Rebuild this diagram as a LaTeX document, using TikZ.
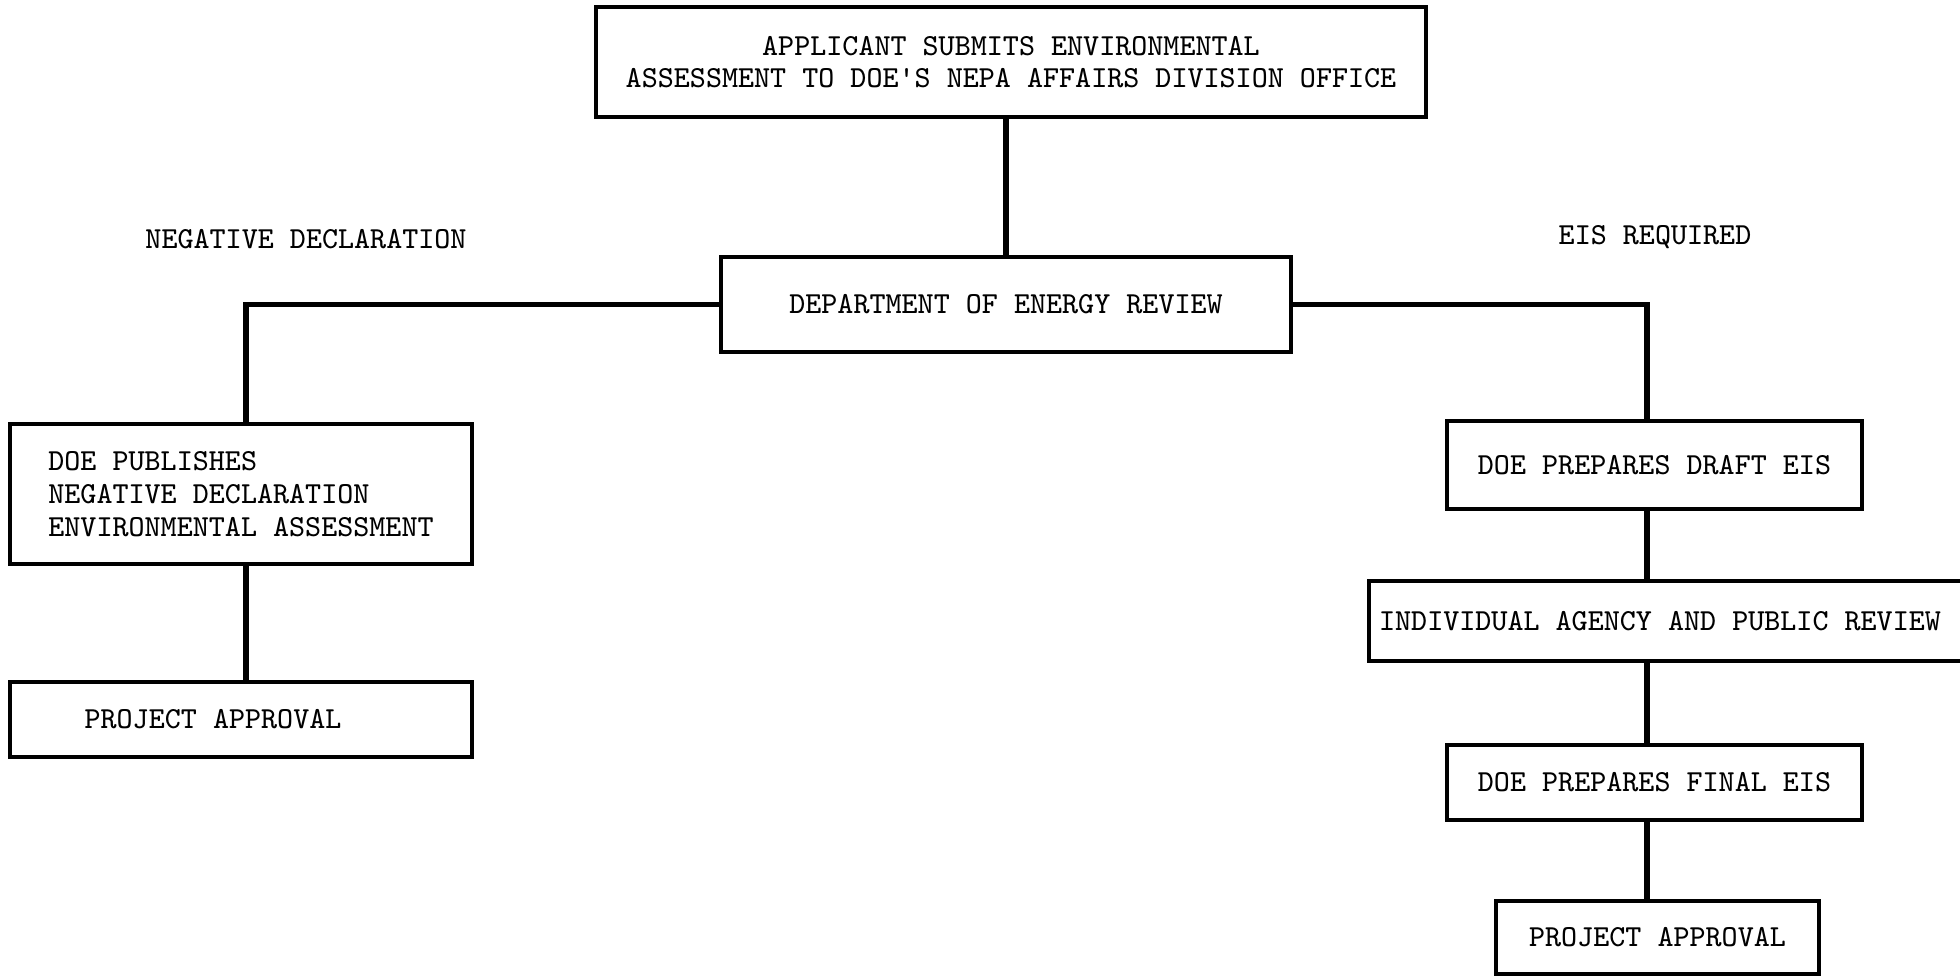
\documentclass[tikz,border=0pt]{standalone}
\usepackage{tikz}
\usetikzlibrary{positioning, calc}
\tikzset{
  stage/.style={
    draw,
    line width=0.9pt,
    inner sep=0pt,
    align=center,
    font=\fontsize{8.7}{9.3}\selectfont\ttfamily
  },
  caption/.style={
    font=\fontsize{8.7}{9.3}\selectfont\ttfamily
  },
  link/.style={
    line width=1.7pt
  }
}
\begin{document}
\begin{tikzpicture}
          \useasboundingbox (0,0) rectangle (19.6,-9.76);
          \node[stage, minimum width=8.30cm, minimum height=1.10cm] (submit) at (10.11,-0.62)
            {APPLICANT SUBMITS ENVIRONMENTAL\\ASSESSMENT TO DOE'S NEPA AFFAIRS DIVISION OFFICE};
          \node[stage, minimum width=5.70cm, minimum height=0.95cm] (review) at (10.06,-3.045)
            {DEPARTMENT OF ENERGY REVIEW};
          \node[caption] (negdecl) at (3.06,-2.39) {NEGATIVE DECLARATION};
          \node[caption] (eisreq) at (16.55,-2.37) {EIS REQUIRED};
          \node[stage, align=left, minimum width=4.62cm, minimum height=1.40cm] (publish) at (2.41,-4.94)
            {DOE PUBLISHES\\NEGATIVE DECLARATION\\ENVIRONMENTAL ASSESSMENT};
          \node[stage, minimum width=4.62cm, minimum height=0.75cm] (approvalL) at (2.41,-7.195)
            {PROJECT APPROVAL\hspace{0.56cm}};
          \node[stage, minimum width=4.15cm, minimum height=0.88cm] (draft) at (16.545,-4.65)
            {DOE PREPARES DRAFT EIS};
          \node[stage, minimum width=5.97cm, minimum height=0.80cm] (agency) at (16.675,-6.21)
            {INDIVIDUAL AGENCY AND PUBLIC REVIEW\hspace{0.15cm}};
          \node[stage, minimum width=4.15cm, minimum height=0.75cm] (final) at (16.545,-7.825)
            {DOE PREPARES FINAL EIS};
          \node[stage, minimum width=3.23cm, minimum height=0.73cm] (approvalR) at (16.575,-9.375)
            {PROJECT APPROVAL};
          \coordinate (negspine) at (2.46,-3.05);
          \coordinate (eisspine) at (16.47,-3.05);

          \draw[link] (review.north) -- (review.north |- submit.south);
          \draw[link] (review.west) -| (negspine |- publish.north);
          \draw[link] (review.east) -| (eisspine |- draft.north);
          \draw[link] (negspine |- publish.south) -- (negspine |- approvalL.north);
          \draw[link] (eisspine |- draft.south) -- (eisspine |- agency.north);
          \draw[link] (eisspine |- agency.south) -- (eisspine |- final.north);
          \draw[link] (eisspine |- final.south) -- (eisspine |- approvalR.north);
        \end{tikzpicture}
\end{document}
